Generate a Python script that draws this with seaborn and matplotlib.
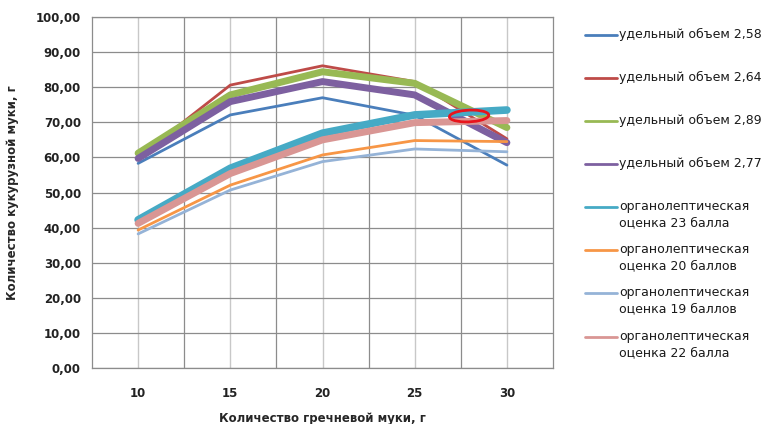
import numpy as np
import pandas as pd
import matplotlib
matplotlib.use("Agg")
import matplotlib.pyplot as plt
from matplotlib.patches import Ellipse
from matplotlib.lines import Line2D
import seaborn as sns

x_vals = [10, 15, 20, 25, 30]
labels = [
    "удельный объем 2,58",
    "удельный объем 2,64",
    "удельный объем 2,89",
    "удельный объем 2,77",
    "органолептическая\nоценка 23 балла",
    "органолептическая\nоценка 20 баллов",
    "органолептическая\nоценка 19 баллов",
    "органолептическая\nоценка 22 балла",
]
v258 = [58.3, 72.1, 77.0, 72.0, 57.8]
v264 = [60.0, 80.6, 86.1, 81.6, 65.3]
v289 = [61.2, 77.8, 84.4, 81.1, 68.5]
v277 = [59.7, 75.9, 81.6, 77.8, 64.2]
o23 = [42.2, 56.9, 66.9, 72.1, 73.5]
o20 = [39.3, 52.1, 60.7, 64.8, 64.5]
o19 = [38.2, 50.7, 58.8, 62.4, 61.6]
o22 = [41.2, 55.4, 65.0, 69.9, 70.5]
series = [v258, v264, v289, v277, o23, o20, o19, o22]

colors = ["#4A7EBB", "#BE4B48", "#98B954", "#7D60A0",
          "#46AAC5", "#F79646", "#95B3D7", "#D99694"]
widths = [2.0, 2.0, 5.0, 5.0, 5.5, 2.0, 2.0, 5.0]

sns.set_style("white")
plt.rcParams['font.family'] = ['DejaVu Sans']

W, H = 768, 424
fig = plt.figure(figsize=(W / 100, H / 100), dpi=100)
ax = fig.add_axes([92/W, 1-368/H, (553-92)/W, (368-17)/H])

for i in range(len(series)):
    df = pd.DataFrame({"x": x_vals, "y": series[i]})
    sns.lineplot(data=df, x="x", y="y", ax=ax, color=colors[i],
                 linewidth=widths[i], solid_capstyle="round",
                 solid_joinstyle="round", legend=False)

ax.set_xlim(7.5, 32.5)
ax.set_ylim(0, 100)
ax.set_xticks(x_vals)
ax.set_xticks([12.5, 17.5, 22.5, 27.5], minor=True)
ax.set_yticks(np.arange(0, 101, 10))
ax.set_yticklabels([f"{v:.2f}".replace(".", ",") for v in np.arange(0, 101, 10)])
ax.grid(True, which="major", axis="y", color="#8c8c8c", linewidth=0.9)
ax.grid(True, which="major", axis="x", color="#c8c8c8", linewidth=1.0)
ax.grid(True, which="minor", axis="x", color="#8c8c8c", linewidth=0.9)
ax.set_axisbelow(True)
ax.tick_params(axis="both", which="both", length=0, labelsize=8.5)
ax.tick_params(axis="x", pad=14)
ax.tick_params(axis="y", pad=8)
for lab in ax.get_xticklabels() + ax.get_yticklabels():
    lab.set_fontweight("bold")
    lab.set_color("#222222")
for s in ax.spines.values():
    s.set_color("#8c8c8c")
    s.set_linewidth(0.9)

ax.set_xlabel("Количество гречневой муки, г", fontsize=8.5, fontweight="bold", labelpad=8)
ax.set_ylabel("Количество кукурузной муки, г", fontsize=8.5, fontweight="bold", labelpad=12)

ell = Ellipse((27.95, 71.8), width=2.1, height=3.4, angle=-8,
              fill=False, edgecolor="#e8141c", linewidth=2.0, zorder=5)
ax.add_patch(ell)

# legend drawn manually to match spacing
legend_y = [35, 78, 121, 164, 207, 250, 293, 337]
for c, lab, yy in zip(colors, labels, legend_y):
    fig.add_artist(Line2D([585/W, 617/W], [1-yy/H, 1-yy/H], color=c,
                          linewidth=2.0, transform=fig.transFigure))
    fig.text(619/W, 1-(yy-7)/H, lab, fontsize=9, va="top", ha="left",
             color="#1a1a1a", linespacing=1.35)

fig.savefig("out.png", dpi=100, facecolor="white")
